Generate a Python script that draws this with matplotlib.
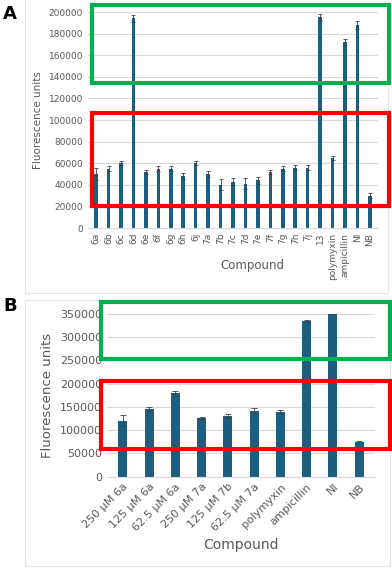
import matplotlib
matplotlib.use("Agg")
import matplotlib.pyplot as plt
from matplotlib.patches import Rectangle

# Panel A data
cats_a = ["6a", "6b", "6c", "6d", "6e", "6f", "6g", "6h", "6j", "7a", "7b", "7c",
          "7d", "7e", "7f", "7g", "7h", "7j", "13", "polymyxin", "ampicillin", "NI", "NB"]
vals_a = [50000, 55000, 60000, 194000, 52000, 55000, 55000, 48000, 60000, 50000, 40000, 43000,
          41000, 44000, 52000, 55000, 56000, 56000, 195000, 65000, 172000, 188000, 30000]
errs_a = [6000, 2000, 2000, 3000, 2000, 2000, 2000, 3000, 2000, 2500, 5000, 3000,
          5000, 3000, 2000, 2000, 2000, 2000, 3000, 2000, 3000, 4000, 2000]
yticks_a = [0, 20000, 40000, 60000, 80000, 100000, 120000, 140000, 160000, 180000, 200000]

# Panel B data
cats_b = ["250 µM 6a", "125 µM 6a", "62.5 µM 6a", "250 µM 7a", "125 µM 7b", "62.5 µM 7a",
          "polymyxin", "ampicillin", "NI", "NB"]
vals_b = [120000, 145000, 180000, 125000, 130000, 142000, 140000, 335000, 350000, 74000]
errs_b = [12000, 4000, 5000, 3000, 4000, 5000, 3000, 2000, 0, 2000]
yticks_b = [0, 50000, 100000, 150000, 200000, 250000, 300000, 350000]

W, H = 392, 568
fig = plt.figure(figsize=(W / 100, H / 100), dpi=100)
BAR = "#1B5E80"
TXT = "#595959"
GRID = "#D9D9D9"


def fx(x):
    return x / W


def fy(y):
    return 1 - y / H


def frame(x0, y0, x1, y1, color, lw):
    fig.add_artist(Rectangle((fx(x0), fy(y1)), fx(x1) - fx(x0), fy(y0) - fy(y1),
                             transform=fig.transFigure, fill=False, edgecolor=color,
                             linewidth=lw, zorder=10))


def style(ax, fs):
    for s in ["top", "right", "left"]:
        ax.spines[s].set_visible(False)
    ax.spines["bottom"].set_color(GRID)
    ax.yaxis.grid(True, color=GRID, linewidth=0.8)
    ax.set_axisbelow(True)
    ax.tick_params(axis="both", length=0, colors=TXT, labelsize=fs)


# light panel frames
frame(25, -2, 388, 293, "#E6E6E6", 0.8)
frame(25, 300, 390, 566, "#E6E6E6", 0.8)

# Panel A
axA = fig.add_axes([fx(88), fy(228), fx(378) - fx(88), fy(12) - fy(228)])
xa = list(range(len(cats_a)))
axA.bar(xa, vals_a, width=0.28, color=BAR, yerr=errs_a,
        error_kw=dict(ecolor="#404040", elinewidth=0.6, capsize=1.5, capthick=0.6))
axA.set_xlim(-0.65, len(cats_a) - 0.35)
axA.set_ylim(0, 200000)
axA.set_yticks(yticks_a)
axA.set_yticklabels([str(v) for v in yticks_a])
axA.set_xticks(xa)
axA.set_xticklabels(cats_a, rotation=90)
style(axA, 6.5)
axA.set_ylabel("Fluorescence units", color=TXT, fontsize=7.5, labelpad=4)
fig.text(fx(252), fy(266), "Compound", color=TXT, fontsize=8.5, ha="center", va="center")

# Panel B
axB = fig.add_axes([fx(107), fy(476.7), fx(375) - fx(107), fy(313.7) - fy(476.7)])
xb = list(range(len(cats_b)))
axB.bar(xb, vals_b, width=0.34, color=BAR, yerr=errs_b,
        error_kw=dict(ecolor="#404040", elinewidth=0.6, capsize=2, capthick=0.6))
axB.set_xlim(-0.6, len(cats_b) - 0.4)
axB.set_ylim(0, 350000)
axB.set_yticks(yticks_b)
axB.set_yticklabels([str(v) for v in yticks_b])
axB.set_xticks(xb)
axB.set_xticklabels(cats_b, rotation=45, ha="right", rotation_mode="anchor")
style(axB, 8)
axB.set_ylabel("Fluorescence units", color=TXT, fontsize=9.5, labelpad=4)
fig.text(fx(241), fy(545), "Compound", color=TXT, fontsize=10, ha="center", va="center")

# highlight boxes
frame(92, 5, 389, 83, "#00B050", 3)
frame(92, 113, 389, 206, "#FF0000", 3)
frame(101, 302, 390, 359, "#00B050", 3)
frame(101, 381, 390, 449, "#FF0000", 3)

# panel letters
fig.text(fx(3), fy(14), "A", fontsize=13, fontweight="bold", va="center", ha="left")
fig.text(fx(3), fy(306), "B", fontsize=13, fontweight="bold", va="center", ha="left")

fig.savefig("out.png", dpi=100)
